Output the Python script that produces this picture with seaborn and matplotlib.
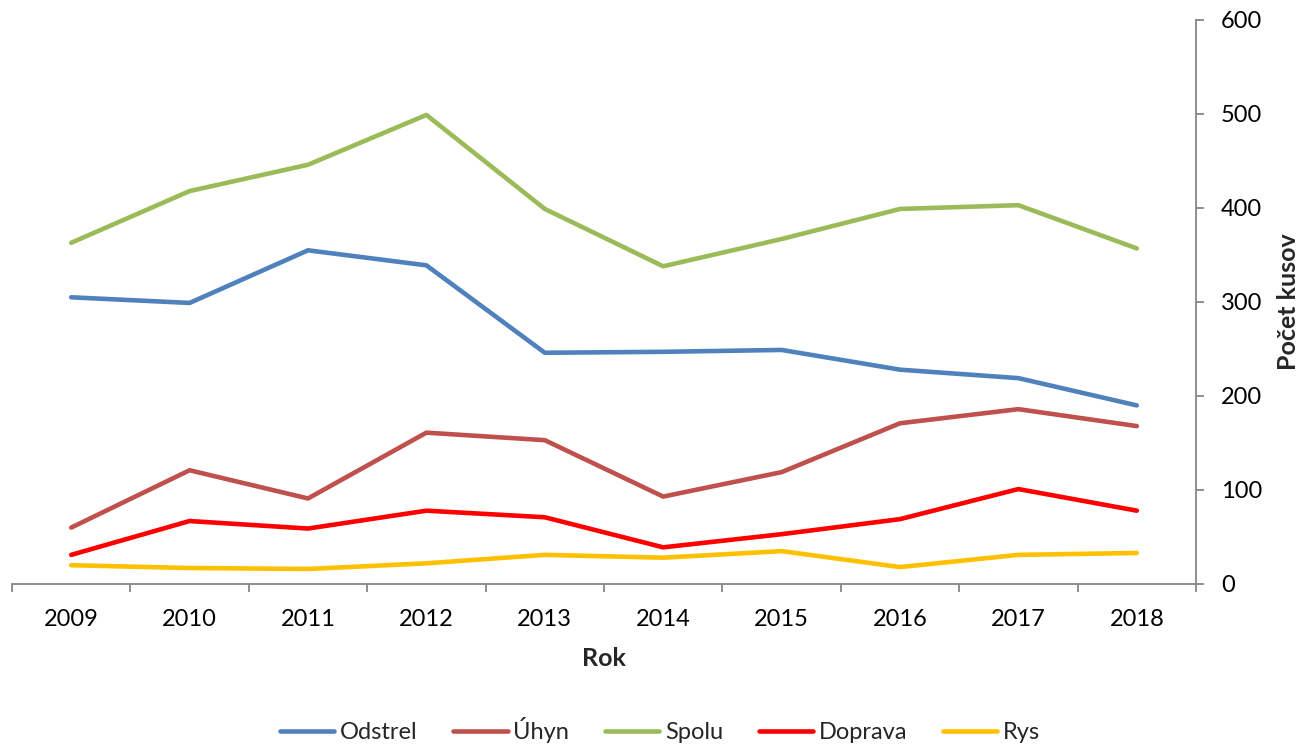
import matplotlib
matplotlib.use("Agg")
import matplotlib.pyplot as plt
import seaborn as sns
import pandas as pd
import numpy as np
from matplotlib.lines import Line2D

years = ["2009", "2010", "2011", "2012", "2013", "2014", "2015", "2016", "2017", "2018"]
odstrel = [305, 299, 355, 339, 246, 247, 249, 228, 219, 190]
uhyn = [60, 121, 91, 161, 153, 93, 119, 171, 186, 168]
spolu = [363, 418, 446, 499, 399, 338, 367, 399, 403, 357]
doprava = [31, 67, 59, 78, 71, 39, 53, 69, 101, 78]
rys = [20, 17, 16, 22, 31, 28, 35, 18, 31, 33]

series_names = ["Odstrel", "Úhyn", "Spolu", "Doprava", "Rys"]
colors = ["#4F81BD", "#C0504D", "#9BBB59", "#FF0000", "#FFC000"]

sns.set_theme(style="white")
plt.rcParams["font.family"] = ["Lato", "DejaVu Sans"]

rows = []
for name, vals in zip(series_names, [odstrel, uhyn, spolu, doprava, rys]):
    for i, v in enumerate(vals):
        rows.append({"idx": i, "value": v, "series": name})
df = pd.DataFrame(rows)

fig = plt.figure(figsize=(13.01, 7.45), dpi=100)
ax = fig.add_axes([12/1301, 1-584/745, (1196-12)/1301, (584-20)/745])

sns.lineplot(data=df, x="idx", y="value", hue="series", hue_order=series_names,
             palette=colors, linewidth=3.3, ax=ax, legend=False)

ax.set_xlim(-0.5, len(years)-0.5)
ax.set_ylim(0, 600)

ax.yaxis.tick_right()
ax.set_yticks(np.arange(0, 601, 100))
ax.set_xticks(range(len(years)))
ax.set_xticklabels(years)
ax.set_xticks(np.arange(-0.5, len(years), 1), minor=True)

for s in ["top", "left"]:
    ax.spines[s].set_visible(False)
for s in ["bottom", "right"]:
    ax.spines[s].set_color("#868686")
    ax.spines[s].set_linewidth(1.3)

ax.tick_params(axis="x", which="major", length=0, pad=18, labelsize=17, colors="black")
ax.tick_params(axis="x", which="minor", length=6, width=1.3, color="#868686", bottom=True)
ax.tick_params(axis="y", which="major", length=6, width=1.3, color="#868686",
               pad=12, labelsize=17, labelcolor="black", right=True, left=False, direction="out")

ax.set_xlabel("Rok", fontsize=18, fontweight="bold")
ax.xaxis.set_label_coords(0.5, -(658-584)/564)
ax.xaxis.label.set_va("center")
ax.set_ylabel("Počet kusov", fontsize=18, fontweight="bold")
ax.yaxis.set_label_position("right")
ax.yaxis.set_label_coords((1288-12)/1184, 0.5)
ax.yaxis.label.set_va("center")
ax.grid(False)

handles = [Line2D([0], [0], color=c, linewidth=3.3) for c in colors]
fig.legend(handles, series_names, loc="center", bbox_to_anchor=(660/1301, 1-730/745),
           ncol=5, frameon=False, fontsize=17, handlelength=2.3, columnspacing=1.5,
           handletextpad=0.25)

fig.savefig("out.png", dpi=100)
